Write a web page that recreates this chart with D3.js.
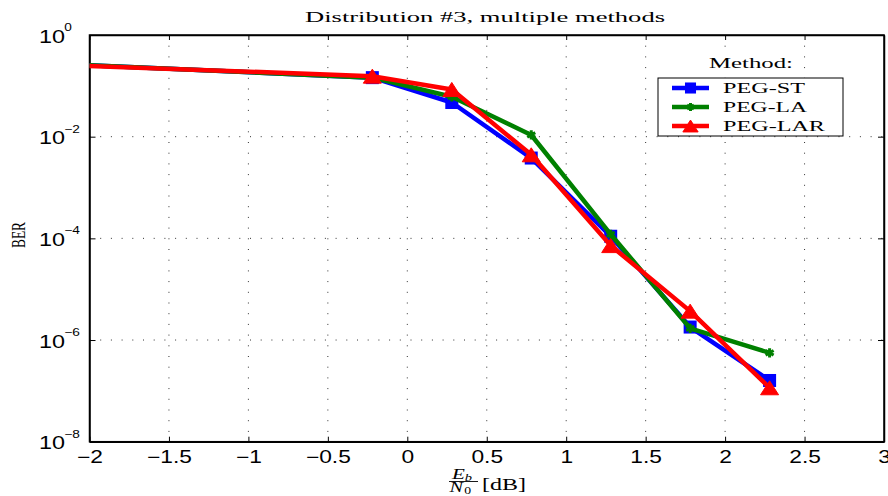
<!DOCTYPE html>
<html><head><meta charset="utf-8">
<script src="https://cdn.jsdelivr.net/npm/d3@7"></script>
<style>body{margin:0;background:#fff}</style>
</head><body><svg id="c" width="888" height="496"></svg>
<script>
// ---- data ----
const methods = ["PEG-ST", "PEG-LA", "PEG-LAR"];
const ebn0 = [-2.2, -0.22, 0.28, 0.78, 1.28, 1.78, 2.28];
const berST  = [0.27, 0.145, 0.047, 0.0038, 1.1e-4, 1.8e-6, 1.6e-7];
const berLA  = [0.27, 0.145, 0.061, 0.0108, 1.2e-4, 1.7e-6, 5.6e-7];
const berLAR = [0.26, 0.155, 0.085, 0.0044, 7.2e-5, 3.7e-6, 1.15e-7];
const xTicks = [-2, -1.5, -1, -0.5, 0, 0.5, 1, 1.5, 2, 2.5, 3];
const yTickExps = [0, -2, -4, -6, -8];
const titleText = "Distribution #3, multiple methods";
const legendTitle = "Method:";

// ---- layout ----
const svg = d3.select("#c");
const L = 89.5, R = 884, T = 35, B = 441.7;
const x = d3.scaleLinear().domain([-2, 3]).range([L, R]);
const y = d3.scaleLog().domain([1e-8, 1]).range([B, T]);
const colors = ["#0000ff", "#008000", "#ff0000"];
const series = [berST, berLA, berLAR];
const sans = "'Liberation Sans', Arial, sans-serif";
const serif = "'Liberation Serif', 'Times New Roman', serif";

svg.append("defs").append("clipPath").attr("id", "clip")
  .append("rect").attr("x", L).attr("y", T).attr("width", R - L).attr("height", B - T);

// grid
const grid = svg.append("g").attr("stroke", "#333").attr("stroke-width", 1)
  .attr("stroke-dasharray", "1,9.7");
grid.selectAll("line.v").data(xTicks.slice(1, -1)).join("line")
  .attr("x1", d => x(d)).attr("x2", d => x(d)).attr("y1", T).attr("y2", B);
grid.selectAll("line.h").data(yTickExps.slice(1, -1)).join("line")
  .attr("x1", L).attr("x2", R).attr("y1", d => y(Math.pow(10, d))).attr("y2", d => y(Math.pow(10, d)));

// axes
const yTickVals = yTickExps.map(e => Math.pow(10, e));
const ax = svg.append("g").attr("class", "axes");
const bottom = ax.append("g").attr("transform", `translate(0,${B})`)
  .call(d3.axisBottom(x).tickValues(xTicks).tickSize(-5).tickSizeOuter(0)
    .tickFormat(d => (d < 0 ? "\u2212" + Math.abs(d) : String(d))));
bottom.selectAll("text").attr("y", 21).attr("dy", null)
  .attr("font-family", sans).attr("font-size", 17.5).attr("fill", "#000")
  .attr("transform", "scale(1.3,1)");
ax.append("g").attr("transform", `translate(0,${T})`)
  .call(d3.axisTop(x).tickValues(xTicks).tickSize(-5).tickSizeOuter(0).tickFormat(""));
ax.append("g").attr("transform", `translate(${L},0)`)
  .call(d3.axisLeft(y).tickValues(yTickVals).tickSize(-6).tickSizeOuter(0).tickFormat(""));
ax.append("g").attr("transform", `translate(${R},0)`)
  .call(d3.axisRight(y).tickValues(yTickVals).tickSize(-6).tickSizeOuter(0).tickFormat(""));
ax.selectAll(".domain").attr("stroke", "#000").attr("stroke-width", 1.5);
ax.selectAll(".tick line").attr("stroke", "#000").attr("stroke-width", 1);
svg.append("rect").attr("x", L).attr("y", T).attr("width", R - L).attr("height", B - T)
  .attr("fill", "none").attr("stroke", "#000").attr("stroke-width", 1.5);

// y tick labels 10^e
const yl = svg.append("g").attr("font-family", sans).attr("fill", "#000");
yTickExps.forEach(e => {
  const yy = y(Math.pow(10, e));
  const g = yl.append("g").attr("transform", `translate(39,${yy}) scale(1.3,1)`);
  g.append("text").attr("x", 0).attr("y", 7.5).attr("font-size", 18).text("10");
  g.append("text").attr("x", 19.5).attr("y", -4).attr("font-size", 10.5)
    .text(e < 0 ? "\u2212" + Math.abs(e) : String(e));
});

// title
svg.append("text").attr("x", 305).attr("y", 22).attr("font-family", serif).attr("font-size", 15.5)
  .attr("textLength", 360).attr("lengthAdjust", "spacingAndGlyphs").text(titleText);

// y label
svg.append("text").attr("text-anchor", "middle").attr("font-family", serif).attr("font-size", 13.5)
  .attr("textLength", 26).attr("lengthAdjust", "spacingAndGlyphs")
  .attr("transform", `translate(24.5,235) rotate(-90) scale(1,1.45)`).text("BER");

// x label: Eb/N0 [dB]
const xl = svg.append("g").attr("font-family", serif).attr("fill", "#000");
const num = xl.append("g").attr("transform", "translate(452,478.5) scale(1.45,1)");
num.append("text").attr("font-style", "italic").attr("font-size", 14.5).text("E");
num.append("text").attr("x", 8.8).attr("y", 2.5).attr("font-style", "italic").attr("font-size", 10).text("b");
xl.append("line").attr("x1", 449).attr("x2", 478).attr("y1", 481.5).attr("y2", 481.5)
  .attr("stroke", "#000").attr("stroke-width", 0.9);
const den = xl.append("g").attr("transform", "translate(449.5,492) scale(1.45,1)");
den.append("text").attr("font-style", "italic").attr("font-size", 14).text("N");
den.append("text").attr("x", 10.2).attr("y", 1.8).attr("font-size", 9.5).text("0");
xl.append("text").attr("transform", "translate(482,489.5) scale(1.5,1)").attr("font-size", 16).text("[dB]");

// series
const line = d3.line().x((d, i) => x(ebn0[i])).y(d => y(d));
const plot = svg.append("g").attr("clip-path", "url(#clip)");
function marker(g, k, cx, cy, scale) {
  const s = scale || 1;
  if (k === 0) {
    g.append("rect").attr("x", cx - 6.5 * s).attr("y", cy - 6.5 * s)
      .attr("width", 13 * s).attr("height", 13 * s).attr("fill", colors[0]);
  } else if (k === 1) {
    g.append("path").attr("transform", `translate(${cx},${cy})`)
      .attr("d", d3.symbol(d3.symbolAsterisk, 60 * s * s)())
      .attr("fill", "none").attr("stroke", colors[1]).attr("stroke-width", 3);
  } else {
    const w = 18 * s, h = 14 * s;
    g.append("path").attr("d", `M${cx},${cy - h / 2}L${cx + w / 2},${cy + h / 2}L${cx - w / 2},${cy + h / 2}Z`)
      .attr("fill", colors[2]).attr("stroke", colors[2]).attr("stroke-width", 1);
  }
}
series.forEach((vals, k) => {
  const g = plot.append("g");
  g.append("path").attr("d", line(vals)).attr("fill", "none").attr("stroke", colors[k])
    .attr("stroke-width", 4.5).attr("stroke-linejoin", "round");
  vals.forEach((v, i) => marker(g, k, x(ebn0[i]), y(v)));
});

// legend
const lg = svg.append("g");
lg.append("rect").attr("x", 705).attr("y", 52).attr("width", 95).attr("height", 25).attr("fill", "#fff");
lg.append("text").attr("x", 709).attr("y", 68).attr("font-family", serif).attr("font-size", 15.5)
  .attr("textLength", 84).attr("lengthAdjust", "spacingAndGlyphs").text(legendTitle);
lg.append("rect").attr("x", 658).attr("y", 78).attr("width", 185).attr("height", 58)
  .attr("fill", "#fff").attr("stroke", "#000").attr("stroke-width", 1);
const rowY = [88, 107, 126];
const legW = [82, 84, 102];
methods.forEach((mth, k) => {
  const yy = rowY[k];
  lg.append("line").attr("x1", 672).attr("x2", 709).attr("y1", yy).attr("y2", yy)
    .attr("stroke", colors[k]).attr("stroke-width", 4.5);
  marker(lg, k, 690.5, yy, 0.85);
  lg.append("text").attr("x", 723).attr("y", yy + 5).attr("font-family", serif).attr("font-size", 14.5)
    .attr("textLength", legW[k]).attr("lengthAdjust", "spacingAndGlyphs").text(mth);
});
</script></body></html>
